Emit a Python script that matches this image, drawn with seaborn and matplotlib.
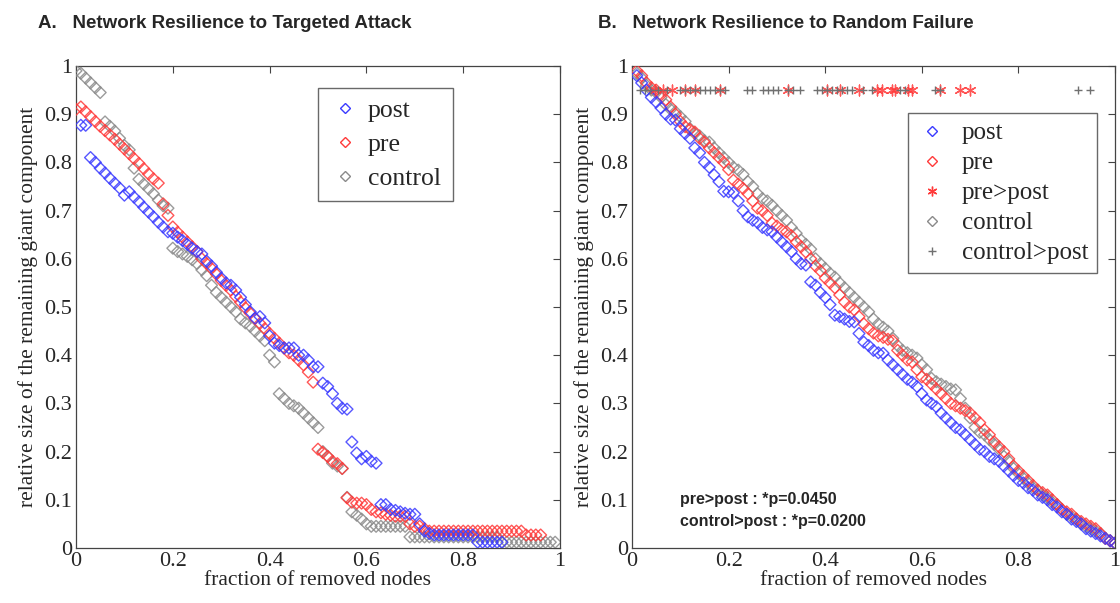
import numpy as np
import matplotlib
matplotlib.use("Agg")
import matplotlib.pyplot as plt
import seaborn as sns
from matplotlib.lines import Line2D

# ---- Panel A: targeted attack (fraction of removed nodes in steps of 0.01) ----
attack_post = [0.877, 0.877, 0.810, 0.800, 0.788, 0.778, 0.767, 0.757, 0.747, 0.732,
               0.739, 0.728, 0.718, 0.707, 0.697, 0.687, 0.676, 0.666, 0.656, 0.653,
               0.645, 0.638, 0.630, 0.622, 0.615, 0.610, 0.595, 0.585, 0.572, 0.560,
               0.550, 0.545, 0.535, 0.520, 0.505, 0.490, 0.477, 0.480, 0.467, 0.440,
               0.425, 0.420, 0.415, 0.415, 0.415, 0.400, 0.400, 0.390, 0.376, 0.376,
               0.342, 0.335, 0.320, 0.300, 0.290, 0.288, 0.220, 0.197, 0.185, 0.190,
               0.180, 0.176, 0.090, 0.090, 0.080, 0.078, 0.075, 0.072, 0.070, 0.070,
               0.050, 0.035, 0.030, 0.027, 0.027, 0.027, 0.027, 0.027, 0.027, 0.027,
               0.027, 0.027, 0.012, 0.012, 0.012, 0.012, 0.012, 0.012]
attack_pre = [0.910, 0.915, 0.905, 0.895, 0.885, 0.875, 0.866, 0.857, 0.848, 0.838,
              0.828, 0.818, 0.808, 0.798, 0.787, 0.776, 0.766, 0.757, 0.714, 0.690,
              0.666, 0.655, 0.645, 0.635, 0.625, 0.615, 0.600, 0.590, 0.580, 0.568,
              0.555, 0.545, 0.535, 0.522, 0.510, 0.498, 0.487, 0.476, 0.466, 0.455,
              0.445, 0.435, 0.425, 0.415, 0.405, 0.400, 0.390, 0.380, 0.365, 0.344,
              0.205, 0.198, 0.190, 0.180, 0.175, 0.165, 0.104, 0.095, 0.093, 0.093,
              0.090, 0.080, 0.075, 0.073, 0.070, 0.068, 0.066, 0.066, 0.066, 0.050,
              0.045, 0.045, 0.040, 0.035, 0.035, 0.035, 0.035, 0.035, 0.035, 0.035,
              0.035, 0.035, 0.035, 0.035, 0.035, 0.035, 0.035, 0.035, 0.035, 0.035,
              0.035, 0.035, 0.035, 0.027, 0.027, 0.027, 0.027]
attack_control = [0.990, 0.985, 0.975, 0.965, 0.955, 0.945, 0.884, 0.875, 0.865, 0.850,
                  0.835, 0.826, 0.788, 0.765, 0.755, 0.745, 0.735, 0.722, 0.710, 0.705,
                  0.622, 0.615, 0.610, 0.605, 0.598, 0.590, 0.577, 0.565, 0.545, 0.530,
                  0.520, 0.510, 0.500, 0.490, 0.475, 0.467, 0.460, 0.450, 0.440, 0.430,
                  0.400, 0.386, 0.320, 0.310, 0.300, 0.295, 0.290, 0.280, 0.270, 0.260,
                  0.250, 0.200, 0.190, 0.176, 0.170, 0.165, 0.105, 0.075, 0.068, 0.060,
                  0.050, 0.045, 0.045, 0.045, 0.045, 0.045, 0.045, 0.045, 0.045, 0.023,
                  0.023, 0.023, 0.023, 0.023, 0.023, 0.023, 0.023, 0.023, 0.023, 0.023,
                  0.023, 0.023, 0.023, 0.023, 0.023, 0.023, 0.023, 0.023, 0.012, 0.012,
                  0.012, 0.012, 0.012, 0.012, 0.012, 0.012, 0.012, 0.012, 0.012, 0.012]

# ---- Panel B: random failure (fraction removed 0.01 .. 1.00) ----
random_post = [0.980, 0.965, 0.950, 0.935, 0.925, 0.913, 0.900, 0.890, 0.888, 0.870,
               0.860, 0.850, 0.830, 0.820, 0.800, 0.790, 0.774, 0.760, 0.740, 0.739,
               0.737, 0.720, 0.700, 0.687, 0.680, 0.675, 0.665, 0.660, 0.656, 0.645,
               0.635, 0.625, 0.615, 0.600, 0.590, 0.587, 0.552, 0.545, 0.530, 0.520,
               0.505, 0.483, 0.480, 0.475, 0.470, 0.469, 0.445, 0.427, 0.420, 0.410,
               0.405, 0.404, 0.390, 0.380, 0.370, 0.360, 0.350, 0.344, 0.335, 0.320,
               0.307, 0.300, 0.293, 0.280, 0.270, 0.260, 0.250, 0.245, 0.235, 0.225,
               0.215, 0.205, 0.200, 0.190, 0.185, 0.180, 0.170, 0.160, 0.150, 0.140,
               0.135, 0.125, 0.120, 0.110, 0.105, 0.100, 0.090, 0.085, 0.075, 0.070,
               0.060, 0.055, 0.050, 0.040, 0.035, 0.030, 0.025, 0.020, 0.015, 0.010]
random_pre = [0.990, 0.980, 0.965, 0.955, 0.950, 0.940, 0.930, 0.915, 0.900, 0.885,
              0.874, 0.868, 0.863, 0.850, 0.842, 0.830, 0.820, 0.810, 0.800, 0.785,
              0.763, 0.755, 0.746, 0.735, 0.720, 0.705, 0.700, 0.690, 0.674, 0.668,
              0.660, 0.656, 0.648, 0.635, 0.625, 0.614, 0.600, 0.585, 0.575, 0.560,
              0.550, 0.540, 0.525, 0.510, 0.500, 0.494, 0.480, 0.465, 0.455, 0.446,
              0.440, 0.437, 0.433, 0.430, 0.410, 0.400, 0.390, 0.386, 0.370, 0.355,
              0.350, 0.340, 0.330, 0.320, 0.310, 0.300, 0.295, 0.290, 0.285, 0.280,
              0.270, 0.260, 0.245, 0.235, 0.220, 0.210, 0.200, 0.185, 0.170, 0.160,
              0.150, 0.140, 0.130, 0.120, 0.115, 0.110, 0.100, 0.090, 0.080, 0.075,
              0.070, 0.060, 0.055, 0.050, 0.045, 0.040, 0.030, 0.020, 0.015, 0.010]
random_control = [0.985, 0.975, 0.960, 0.950, 0.945, 0.935, 0.920, 0.910, 0.905, 0.895,
                  0.885, 0.870, 0.860, 0.855, 0.845, 0.842, 0.830, 0.820, 0.810, 0.800,
                  0.790, 0.784, 0.775, 0.760, 0.750, 0.735, 0.725, 0.720, 0.711, 0.700,
                  0.690, 0.680, 0.665, 0.653, 0.639, 0.630, 0.620, 0.600, 0.590, 0.580,
                  0.570, 0.562, 0.550, 0.540, 0.530, 0.520, 0.510, 0.500, 0.490, 0.475,
                  0.465, 0.458, 0.450, 0.435, 0.420, 0.410, 0.405, 0.400, 0.394, 0.380,
                  0.370, 0.352, 0.345, 0.340, 0.335, 0.330, 0.328, 0.310, 0.290, 0.270,
                  0.250, 0.240, 0.235, 0.225, 0.215, 0.205, 0.190, 0.180, 0.165, 0.155,
                  0.145, 0.135, 0.125, 0.120, 0.110, 0.105, 0.095, 0.090, 0.080, 0.070,
                  0.065, 0.060, 0.050, 0.045, 0.040, 0.035, 0.030, 0.020, 0.015, 0.010]

# significance markers drawn at y = 0.95
pre_gt_post_x = [0.048, 0.064, 0.083, 0.110, 0.130, 0.182, 0.323, 0.404, 0.430, 0.470,
                 0.507, 0.517, 0.538, 0.545, 0.571, 0.580, 0.638, 0.679, 0.700]
control_gt_post_x = [0.017, 0.027, 0.037, 0.054, 0.072, 0.099, 0.110, 0.120, 0.130, 0.141,
                     0.151, 0.161, 0.172, 0.182, 0.193, 0.238, 0.248, 0.271, 0.282, 0.292,
                     0.302, 0.323, 0.333, 0.348, 0.383, 0.393, 0.404, 0.414, 0.424, 0.435,
                     0.445, 0.455, 0.478, 0.497, 0.555, 0.565, 0.627, 0.638, 0.923, 0.948]
sig_level = 0.95

blue = "#3a3aff"
red = "#ff3a3a"
gray = "#8a8a8a"

sns.set_style("white")
plt.rcParams["font.family"] = ["Liberation Serif", "DejaVu Serif"]
plt.rcParams["xtick.direction"] = "in"
plt.rcParams["ytick.direction"] = "in"

fig = plt.figure(figsize=(11.2, 6.03), dpi=100)
ax1 = fig.add_axes([76 / 1120, 55 / 603, 484 / 1120, 482 / 603])
ax2 = fig.add_axes([632 / 1120, 55 / 603, 483 / 1120, 482 / 603])


def hollow(ax, x, y, color):
    sns.scatterplot(x=x, y=y, ax=ax, marker="D", s=36, facecolor="none",
                    edgecolor=color, linewidth=1.0, alpha=0.85, zorder=3)


x_post_a = np.arange(len(attack_post)) / 100 + 0.01
x_pre_a = np.arange(len(attack_pre)) / 100
x_ctl_a = np.arange(len(attack_control)) / 100
hollow(ax1, x_ctl_a, attack_control, gray)
hollow(ax1, x_pre_a, attack_pre, red)
hollow(ax1, x_post_a, attack_post, blue)

x_b = np.arange(1, len(random_pre) + 1) / 100
hollow(ax2, x_b, random_control, gray)
hollow(ax2, x_b, random_pre, red)
hollow(ax2, x_b, random_post, blue)
sns.scatterplot(x=pre_gt_post_x, y=[sig_level] * len(pre_gt_post_x), ax=ax2,
                marker=(6, 2, 0), s=60, color=red, linewidth=1.0, alpha=0.85, zorder=4)
sns.scatterplot(x=control_gt_post_x, y=[sig_level] * len(control_gt_post_x), ax=ax2,
                marker="+", s=40, color="#707070", linewidth=1.0, zorder=5)

ticks_x = [0, 0.2, 0.4, 0.6, 0.8, 1]
ticks_y = [0, 0.1, 0.2, 0.3, 0.4, 0.5, 0.6, 0.7, 0.8, 0.9, 1]
for ax in (ax1, ax2):
    ax.set_xlim(0, 1)
    ax.set_ylim(0, 1)
    ax.set_xticks(ticks_x)
    ax.set_xticklabels(["0", "0.2", "0.4", "0.6", "0.8", "1"])
    ax.set_yticks(ticks_y)
    ax.set_yticklabels(["0", "0.1", "0.2", "0.3", "0.4", "0.5", "0.6", "0.7", "0.8", "0.9", "1"])
    ax.tick_params(axis="both", which="both", top=True, right=True, length=5,
                   width=0.8, color="#444444", labelsize=16, pad=3)
    for sp in ax.spines.values():
        sp.set_color("#444444")
        sp.set_linewidth(0.9)
    ax.set_xlabel("fraction of removed nodes", fontsize=15.5, labelpad=0)
    ax.set_ylabel("relative size of the remaining giant component", fontsize=15.5, labelpad=4)


def dmark(color):
    return Line2D([], [], marker="D", ls="none", markersize=5.5, markerfacecolor="none",
                  markeredgecolor=color, markeredgewidth=1.0)


h1 = [dmark(blue), dmark(red), dmark(gray)]
ax1.legend(h1, ["post", "pre", "control"], loc="upper left", bbox_to_anchor=(0.5, 0.955),
           fontsize=18.5, frameon=True, fancybox=False, edgecolor="#444444",
           handlelength=1.2, handletextpad=0.3, borderpad=0.45, labelspacing=0.42,
           borderaxespad=0)

h2 = [dmark(blue), dmark(red),
      Line2D([], [], marker=(6, 2, 0), ls="none", markersize=7, color=red, markeredgewidth=1.0),
      dmark(gray),
      Line2D([], [], marker="+", ls="none", markersize=6, color="#707070", markeredgewidth=1.0)]
ax2.legend(h2, ["post", "pre", "pre>post", "control", "control>post"], loc="upper left",
           bbox_to_anchor=(0.571, 0.902), fontsize=18, frameon=True, fancybox=False,
           edgecolor="#444444", handlelength=1.2, handletextpad=0.6, borderpad=0.35,
           labelspacing=0.3, borderaxespad=0)

ax2.text(0.1, 0.1, "pre>post : *p=0.0450", fontsize=11.5, fontweight="bold",
         family="Liberation Sans", va="center")
ax2.text(0.1, 0.056, "control>post : *p=0.0200", fontsize=11.5, fontweight="bold",
         family="Liberation Sans", va="center")

fig.text(38 / 1120, 1 - 24 / 603, "A.   Network Resilience to Targeted Attack",
         fontsize=13.5, fontweight="bold", family="Liberation Sans", va="center")
fig.text(598 / 1120, 1 - 24 / 603, "B.   Network Resilience to Random Failure",
         fontsize=13.5, fontweight="bold", family="Liberation Sans", va="center")

fig.savefig("out.png", dpi=100, facecolor="white")
